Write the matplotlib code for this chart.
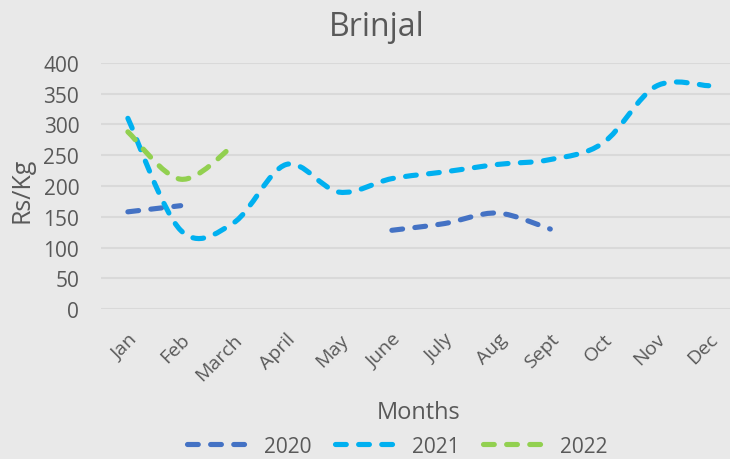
import matplotlib.pyplot as plt
import numpy as np
from matplotlib.path import Path
from matplotlib.patches import PathPatch
from matplotlib.lines import Line2D

plt.rcParams['font.family'] = ['Open Sans', 'DejaVu Sans']

# Data
months = ['Jan', 'Feb', 'March', 'April', 'May', 'June', 'July', 'Aug',
          'Sept', 'Oct', 'Nov', 'Dec']
y2020 = [158, 168, None, None, None, 128, 139, 156, 130, None, None, None]
y2021 = [310, 128, 140, 235, 190, 212, 223, 235, 243, 270, 362, 363]
y2022 = [288, 211, 266, None, None, None, None, None, None, None, None, None]

series = [('2020', y2020, '#4472C4'),
          ('2021', y2021, '#00B0F0'),
          ('2022', y2022, '#92D050')]

bg = '#E9E9E9'
txt = '#595959'
lw = 3.7
dash = (0, (2.1, 2.4))


def smooth_path(xs, ys):
    # Excel-style smoothed line: cubic Bezier through the points
    n = len(xs)
    verts = [(xs[0], ys[0])]
    codes = [Path.MOVETO]
    for i in range(n - 1):
        x0, y0 = (xs[i - 1], ys[i - 1]) if i > 0 else (xs[i], ys[i])
        x3, y3 = (xs[i + 2], ys[i + 2]) if i + 2 < n else (xs[i + 1], ys[i + 1])
        c1 = (xs[i] + (xs[i + 1] - x0) / 6, ys[i] + (ys[i + 1] - y0) / 6)
        c2 = (xs[i + 1] - (x3 - xs[i]) / 6, ys[i + 1] - (y3 - ys[i]) / 6)
        verts += [c1, c2, (xs[i + 1], ys[i + 1])]
        codes += [Path.CURVE4] * 3
    return Path(verts, codes)


fig = plt.figure(figsize=(7.3, 4.6), dpi=100, facecolor=bg)
ax = fig.add_axes([0.139, 0.326, 0.868, 0.535], facecolor=bg)

x = np.arange(len(months))
for name, vals, color in series:
    seg_x, seg_y = [], []
    for xi, v in zip(list(x) + [None], vals + [None]):
        if v is not None:
            seg_x.append(xi)
            seg_y.append(v)
        elif seg_x:
            if len(seg_x) > 1:
                patch = PathPatch(smooth_path(seg_x, seg_y), facecolor='none',
                                  edgecolor=color, lw=lw, linestyle=dash,
                                  capstyle='round', joinstyle='round', zorder=3)
                ax.add_patch(patch)
            seg_x, seg_y = [], []

ax.set_xlim(-0.5, len(months) - 0.5)
ax.set_ylim(0, 400)
ax.set_yticks(np.arange(0, 401, 50))
ax.set_xticks(x)
ax.set_xticklabels(months, rotation=45, ha='right', va='top',
                   rotation_mode='anchor')
ax.tick_params(axis='y', length=0, pad=16, labelsize=15, labelcolor=txt)
ax.tick_params(axis='x', length=0, pad=15, labelsize=14, labelcolor=txt)
ax.grid(axis='y', color='#D9D9D9', lw=1.5)
ax.set_axisbelow(True)
for s in ax.spines.values():
    s.set_visible(False)

ax.set_xlabel('Months', fontsize=17, color=txt, va='center')
ax.xaxis.set_label_coords(0.501, -0.42)
ax.set_ylabel('Rs/Kg', fontsize=18, color=txt, va='center')
ax.yaxis.set_label_coords(-0.126, 0.488)

fig.text(377 / 730, 1 - 27 / 460, 'Brinjal', ha='center', va='center',
         fontsize=23, color=txt)

handles = [Line2D([], [], color=c, lw=lw, linestyle=dash,
                  dash_capstyle='round') for _, _, c in series]
fig.legend(handles, [n for n, _, _ in series], loc='center',
           bbox_to_anchor=(0.544, 0.028), ncol=3, frameon=False,
           fontsize=15, labelcolor=txt, handlelength=3.1, handletextpad=0.58,
           columnspacing=1.15, borderpad=0.1)

fig.savefig('out.png', dpi=100, facecolor=bg)
